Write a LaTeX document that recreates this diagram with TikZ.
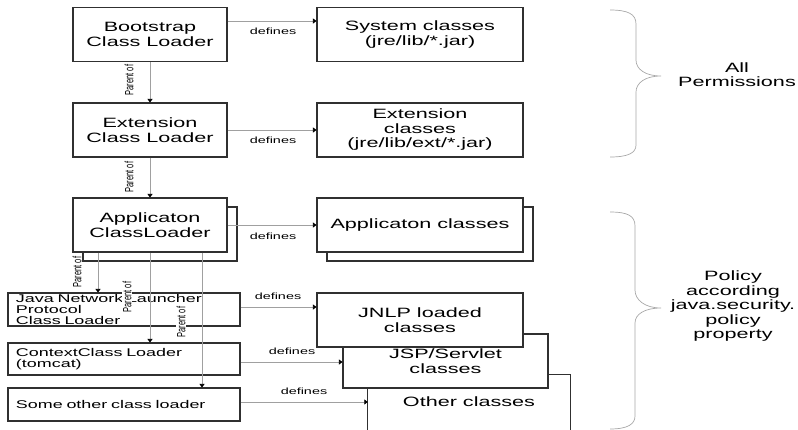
\documentclass[tikz,border=0pt]{standalone}
\usepackage{fontspec}
\usepackage{graphicx}
\setmainfont{Liberation Sans}[FakeStretch=1.6]
\newfontfamily\plainsans{Liberation Sans}
\usetikzlibrary{arrows.meta,calc,shadows}
\definecolor{boxline}{HTML}{303030}
\definecolor{connline}{HTML}{A0A0A0}
\definecolor{bracecol}{HTML}{A8A8A8}
\newcommand\parentof{\scalebox{1}[1.6]{Parent of}}
\tikzset{
  box/.style={draw=boxline, line width=1.1pt, fill=white, inner sep=0pt, align=center},
  bigbox/.style={box, minimum width=206pt, minimum height=54pt, font=\fontsize{13.5}{14.5}\selectfont},
  loaderbox/.style={box, minimum width=154pt, minimum height=54pt, font=\fontsize{13.5}{14.5}\selectfont},
  smallbox/.style={box, minimum width=232pt, minimum height=33pt, text width=216pt, align=left, inner xsep=8pt, inner ysep=0pt, font=\fontsize{11.2}{11.3}\selectfont},
  stack/.style={copy shadow={shadow xshift=10pt, shadow yshift=-9pt}},
  conn/.style={draw=connline, line width=0.7pt, -{Triangle[length=3.5pt,width=5pt,color=black]}},
  deflabel/.style={font=\fontsize{9}{10}\selectfont, inner sep=0pt},
  parlabel/.style={rotate=90, fill=white, inner sep=0.6pt, font=\plainsans\fontsize{7.5}{8}\selectfont},
  sidelabel/.style={align=center, inner sep=0pt, font=\fontsize{13.5}{14.5}\selectfont},
  bracestyle/.style={draw=bracecol, line width=0.7pt},
}
\begin{document}
\begin{tikzpicture}[x=1pt, y=-1pt]
\useasboundingbox (0,0) rectangle (798,429);

% left column
\node[loaderbox] (boot) at (150,34.5) {Bootstrap\\Class Loader};
\node[loaderbox] (ext) at (150,130) {Extension\\Class Loader};
\node[loaderbox, stack] (app) at (150,225) {Applicaton\\ClassLoader};

% right column (bottom boxes first so the upper ones overlap)
\node[minimum width=202pt, minimum height=54pt, inner sep=0pt, font=\fontsize{13.5}{14.5}\selectfont] (otherc) at (469,402) {Other classes};
\draw[draw=boxline, line width=1.1pt] ($(otherc.south west)+(0,6)$) -- (otherc.north west) -- (otherc.north east) -- ($(otherc.south east)+(0,6)$);
\node[box, minimum width=205pt, minimum height=54pt, font=\fontsize{13.5}{14.5}\selectfont] (jsp) at (445.5,361) {JSP/Servlet\\classes};
\node[bigbox] (jnlpc) at (420,320) {JNLP loaded\\classes};

\node[bigbox] (sys) at (420,34.5) {System classes\\(jre/lib/*.jar)};
\node[bigbox] (extc) at (420,130) {Extension\\classes\\(jre/lib/ext/*.jar)};
\node[bigbox, stack] (appc) at (420,225) {Applicaton classes};

% small loaders
\node[smallbox] (jnlpl) at (124,309.5) {Java Network Launcher\\Protocol\\Class Loader};
\node[smallbox, minimum height=32pt, font=\fontsize{11.2}{11.7}\selectfont] (ctx) at (124,359) {ContextClass Loader\\(tomcat)};
\node[smallbox] (olds) at (124,404.5) {Some other class loader};

% defines connectors
\draw[conn] ([yshift=13.5pt]boot.east) -- ([yshift=13.5pt]sys.west);
\node[deflabel] (d1) at (273,31) {defines};
\draw[conn] (ext.east) -- (extc.west);
\node[deflabel] (d2) at (273,140) {defines};
\draw[conn] (app.east) -- (appc.west);
\node[deflabel] (d3) at (273,236) {defines};
\draw[conn] ([yshift=2.5pt]jnlpl.east) -- ([yshift=2.5pt]jnlpl.east -| jnlpc.west);
\node[deflabel] (d4) at (278,296) {defines};
\draw[conn] ([yshift=-3pt]ctx.east) -- ([yshift=-3pt]ctx.east -| jsp.west);
\node[deflabel] (d5) at (292,351) {defines};
\draw[conn] ([yshift=2.5pt]olds.east) -- ([yshift=2.5pt]olds.east -| otherc.west);
\node[deflabel] (d6) at (304,391) {defines};

% parent-of connectors
\draw[conn] (boot.south) -- (ext.north);
\node[parlabel] (p1) at (129,80) {\parentof};
\draw[conn] (ext.south) -- (app.north);
\node[parlabel] (p2) at (129,177) {\parentof};
\draw[conn] (app.south -| 98,0) -- (jnlpl.north -| 98,0);
\draw[conn] (app.south) -- (ctx.north -| app.south);
\draw[conn] (app.south -| 202,0) -- (olds.north -| 202,0);
\node[parlabel] (p3) at (77,272) {\parentof};
\node[parlabel] (p4) at (127,297) {\parentof};
\node[parlabel] (p5) at (181,322) {\parentof};

% braces
\draw[bracestyle] (610,10) .. controls (628,10) and (636,14) .. (636,24) -- (636,60)
  .. controls (636,69) and (645,76) .. (661,76)
  .. controls (645,76) and (636,83) .. (636,92) -- (636,145)
  .. controls (636,153) and (628,157) .. (610,157);
\draw[bracestyle] (610,212) .. controls (628,212) and (635,216) .. (635,226) -- (635,290)
  .. controls (635,300) and (645,308) .. (661,308)
  .. controls (645,308) and (635,314) .. (635,323) -- (635,416)
  .. controls (635,424) and (628,429) .. (610,429);

\node[sidelabel] (allperm) at (737,74.5) {All\\Permissions};
\node[sidelabel] (policy) at (733,306.5) {Policy\\according\\java.security.\\policy\\property};
\end{tikzpicture}
\end{document}
